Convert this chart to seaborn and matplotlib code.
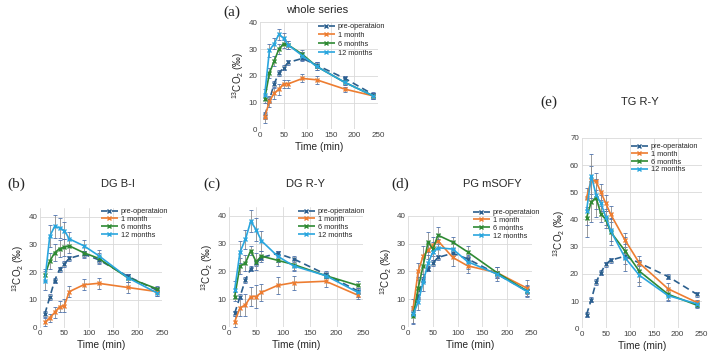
import numpy as np
import pandas as pd
import seaborn as sns
import matplotlib.pyplot as plt

# sampling times (min)
time = [10, 20, 30, 40, 50, 60, 90, 120, 180, 240]
series = ["pre", "1 month", "6 months", "12 months"]

# (a) whole series
a_pre = [5, 11, 17, 21, 23, 25, 26.5, 24, 19, 13]
a_1m = [4.5, 10.5, 13.5, 15, 17, 17, 19, 18.5, 15, 12.5]
a_6m = [11.5, 21, 25.5, 30, 32, 31.5, 28, 23.5, 17.5, 12.5]
a_12m = [13, 29.5, 32, 35.5, 34, 31.5, 27.5, 23.5, 17.5, 12.5]
a_pre_err = [1, 1, 1, 1, 1, 1, 1, 1, 1, 1]
a_1m_err = [2, 2, 2, 2, 1.5, 1.5, 1.5, 1.5, 1, 1]
a_6m_err = [1.5, 2, 2, 2, 1.5, 1.5, 1.5, 1.5, 1, 1]
a_12m_err = [2, 2.5, 2, 2, 2, 1.5, 1.5, 1.5, 1, 1]

# (b) DG B-I
b_pre = [5, 11, 17, 21, 23, 25, 26.5, 24.5, 18.5, 13.5]
b_1m = [2, 3.5, 5.5, 7.5, 8, 13, 15.5, 16, 14.5, 13]
b_6m = [19, 24, 27, 28.5, 29, 29.5, 27, 25, 18, 14]
b_12m = [17, 33, 36.5, 36, 35, 32, 29.5, 26, 18, 12.5]
b_pre_err = [1, 1, 1, 1, 1, 1, 1, 1, 1, 1]
b_1m_err = [1.5, 1.5, 2, 2, 2.5, 2, 2, 2, 2, 1.5]
b_6m_err = [2, 3, 3, 3, 3, 2.5, 2, 2, 1.5, 1]
b_12m_err = [3.5, 4, 4, 3.5, 3, 2.5, 2, 2, 1.5, 1]

# (c) DG R-Y
c_pre = [5, 11, 17, 21, 23, 25, 26.5, 24.5, 19, 13]
c_1m = [2, 7, 8, 11, 11, 12.5, 15, 16, 16.5, 11.5]
c_6m = [11, 22, 23, 27.5, 23.5, 25.5, 24, 22.5, 18.5, 15]
c_12m = [13.5, 27, 31.5, 38, 35, 31, 25.5, 22, 18.5, 12.5]
c_pre_err = [1, 1, 1, 1, 1, 1, 1, 1, 1, 1]
c_1m_err = [2, 3, 4, 3.5, 4, 3, 3, 2.5, 2, 1.5]
c_6m_err = [1.5, 3, 3, 1.5, 3, 2, 2, 2, 1, 1.5]
c_12m_err = [3, 4, 3.5, 4, 4, 3.5, 2, 2, 1, 1.5]

# (d) PG mSOFY
d_pre = [5, 11, 17, 21, 23, 25, 26.5, 24.5, 19, 13]
d_1m = [7, 20, 25.5, 27.5, 29.5, 31, 25, 22, 19.5, 14]
d_6m = [4, 14, 22, 30.5, 28, 33, 30.5, 27, 19.5, 13]
d_12m = [4.5, 9, 16, 23, 27, 28.5, 28, 23.5, 19, 12.8]
d_pre_err = [1, 1, 1, 1, 1, 1, 1, 1, 1, 1]
d_1m_err = [3, 3, 3.5, 3, 3, 2.5, 3, 2.5, 2, 3]
d_6m_err = [3, 4, 4, 3.5, 2.5, 3, 2, 2, 2, 2]
d_12m_err = [3, 3, 3, 3, 3, 3, 2.5, 2.5, 2.5, 2]

# (e) TG R-Y
e_pre = [5, 10.5, 17, 20.5, 23.5, 25, 26.5, 24, 19, 12.5]
e_1m = [48, 54.5, 54, 50, 46, 42, 32.5, 24, 14.5, 9.5]
e_6m = [40.5, 46.5, 48, 42, 40, 35.5, 28.5, 21, 12.5, 8.5]
e_12m = [43, 56, 49, 46, 41, 36, 26, 19.5, 12, 9]
e_pre_err = [1, 1, 1, 1, 1, 1, 1, 1, 1, 1]
e_1m_err = [3.5, 5, 3, 3, 3, 3, 2.5, 2.5, 2, 1]
e_6m_err = [7, 7.5, 7, 3, 3, 5, 5, 4, 2, 1]
e_12m_err = [5, 8, 5, 3, 3, 4, 5, 4, 2, 1]

COLORS = {"pre": "#2b5f8e", "1 month": "#ed7d31",
          "6 months": "#2f8a33", "12 months": "#2aa6de"}
DASHES = {"pre": (4, 2.5), "1 month": (1, 0), "6 months": (1, 0), "12 months": (1, 0)}
PRE_LABEL = "pre-operataion"

sns.set_theme(style="whitegrid")
plt.rcParams['font.family'] = ['Liberation Sans', 'DejaVu Sans']
plt.rcParams['mathtext.fontset'] = 'custom'
plt.rcParams['mathtext.rm'] = 'Liberation Sans'
plt.rcParams['mathtext.it'] = 'Liberation Sans:italic'

W, H = 709, 354
fig = plt.figure(figsize=(W / 100, H / 100), dpi=100)


def add_panel(px_left, px_bottom, px_w, px_h, ymax, yticks, vals, errs,
              title, tag, title_xy, tag_xy, leg_xy, leg_space):
    ax = fig.add_axes([px_left / W, px_bottom / H, px_w / W, px_h / H])
    rows = []
    for s, v in zip(series, vals):
        for t, y in zip(time, v):
            rows.append({"time": t, "value": y, "series": s})
    df = pd.DataFrame(rows)
    for v, e in zip(vals, errs):
        ax.errorbar(time, v, yerr=e, fmt="none", ecolor="#8c8c8c",
                    elinewidth=0.6, capsize=1.6, capthick=0.6, zorder=2)
    sns.lineplot(data=df, x="time", y="value", hue="series", style="series",
                 hue_order=series, style_order=series, palette=COLORS,
                 dashes=DASHES, markers={s: "x" for s in series},
                 markersize=3.2, markeredgewidth=1.0, linewidth=1.2,
                 errorbar=None, ax=ax, zorder=3)
    # x markers take their colour from the line
    for ln in ax.get_lines():
        ln.set_markeredgecolor(ln.get_color())
    ax.set_xlim(0, 250)
    ax.set_ylim(0, ymax)
    ax.set_xticks([0, 50, 100, 150, 200, 250])
    ax.set_yticks(yticks)
    ax.tick_params(labelsize=5.8, length=0, pad=2, colors="#404040")
    ax.grid(True, color="#d9d9d9", linewidth=0.6)
    for sp in ax.spines.values():
        sp.set_visible(False)
    ax.set_xlabel("Time (min)", fontsize=7.3, labelpad=2)
    ax.set_ylabel(r"$^{13}$CO$_2$ (‰)", fontsize=7, labelpad=2)
    handles, labels = ax.get_legend_handles_labels()
    labels = [PRE_LABEL if l == "pre" else l for l in labels]
    leg = ax.legend(handles, labels, loc="upper left",
                    bbox_to_anchor=(leg_xy[0] / W, 1 - leg_xy[1] / H),
                    bbox_transform=fig.transFigure, frameon=False, fontsize=5.3,
                    handlelength=2.3, handletextpad=0.4, labelspacing=leg_space,
                    borderpad=0, borderaxespad=0)
    for h in leg.legend_handles:
        h.set_markeredgecolor(h.get_color())
    fig.text(title_xy[0] / W, 1 - title_xy[1] / H, title, fontsize=8,
             ha="center", va="center")
    fig.text(tag_xy[0] / W, 1 - tag_xy[1] / H, tag, fontsize=11,
             family="Liberation Serif", ha="center", va="center")
    return ax


add_panel(260, 224.7, 118, 107, 40, [0, 10, 20, 30, 40],
          [a_pre, a_1m, a_6m, a_12m],
          [a_pre_err, a_1m_err, a_6m_err, a_12m_err],
          "whole series", "(a)", (317, 10), (232, 12), (318, 23), 0.23)

add_panel(40, 26.3, 122, 119.3, 43, [0, 10, 20, 30, 40],
          [b_pre, b_1m, b_6m, b_12m],
          [b_pre_err, b_1m_err, b_6m_err, b_12m_err],
          "DG B-I", "(b)", (118, 184), (16, 184), (101, 208), 0.1)

add_panel(229.3, 26.7, 134, 120, 43, [0, 10, 20, 30, 40],
          [c_pre, c_1m, c_6m, c_12m],
          [c_pre_err, c_1m_err, c_6m_err, c_12m_err],
          "DG R-Y", "(c)", (305, 184), (212, 184), (298, 208), 0.1)

add_panel(408.3, 27, 123.4, 111.3, 40, [0, 10, 20, 30, 40],
          [d_pre, d_1m, d_6m, d_12m],
          [d_pre_err, d_1m_err, d_6m_err, d_12m_err],
          "PG mSOFY", "(d)", (492, 184), (400, 184), (473, 209), 0.1)

add_panel(581.7, 25.7, 120, 190.5, 70, [0, 10, 20, 30, 40, 50, 60, 70],
          [e_pre, e_1m, e_6m, e_12m],
          [e_pre_err, e_1m_err, e_6m_err, e_12m_err],
          "TG R-Y", "(e)", (640, 102), (549, 102), (631, 143), 0.08)

fig.savefig("out.png", dpi=100)
